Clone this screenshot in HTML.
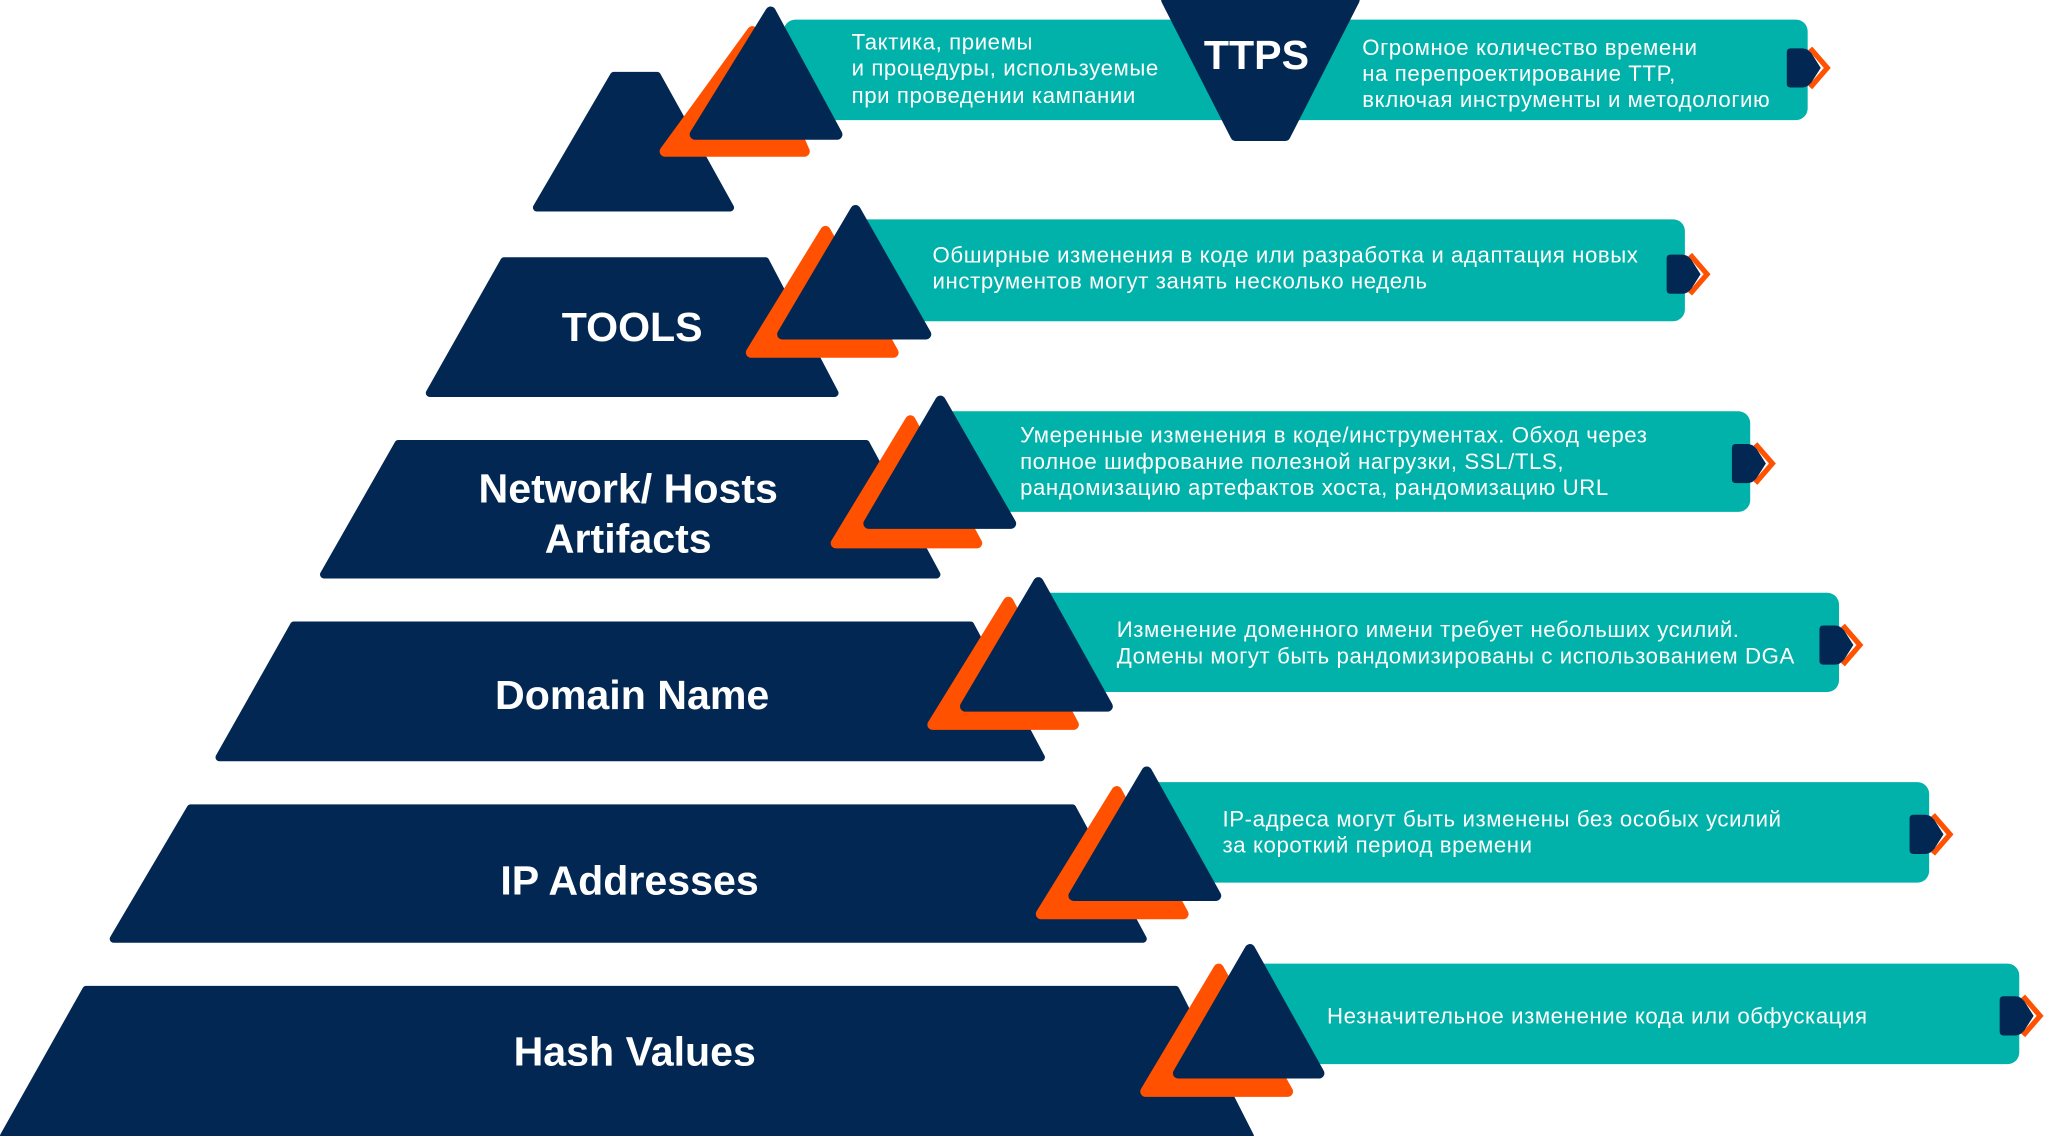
<!DOCTYPE html>
<html><head><meta charset="utf-8"><style>
html,body{margin:0;padding:0;background:#fff;}
svg{display:block}
text{font-family:"Liberation Sans",sans-serif;fill:#fff}
.t{font-size:17px;letter-spacing:0.45px}
.b{font-size:31.5px;font-weight:bold}
</style></head><body>
<svg width="2048" height="1136" viewBox="0 0 1568 870" preserveAspectRatio="none" xmlns="http://www.w3.org/2000/svg">
<g fill="#022752" stroke="#022752" stroke-width="6" stroke-linejoin="round">
<polygon points="470,58 503,58 559,159 411,159"/>
<polygon points="386,200 586,200 639,301 329,301"/>
<polygon points="305,340 663,340 717,440 248,440"/>
<polygon points="225,479 743,479 797,580 168,580"/>
<polygon points="146,619 821,619 875,719 87,719"/>
<polygon points="66,758 900,758 957,870 3,870"/>
</g>
<g font-family="Liberation Sans" text-anchor="middle">
<text class="b" x="484" y="261">TOOLS</text>
<text class="b" x="481" y="385">Network/ Hosts</text>
<text class="b" x="481" y="423">Artifacts</text>
<text class="b" x="484" y="543">Domain Name</text>
<text class="b" x="482" y="685">IP Addresses</text>
<text class="b" x="486" y="816">Hash Values</text>
</g>
<g fill="#00B2A9">
<rect x="600" y="15" width="784" height="77" rx="9"/>
<rect x="650" y="168" width="640" height="78" rx="9"/>
<rect x="715" y="315" width="625" height="77" rx="9"/>
<rect x="790" y="454" width="618" height="76" rx="9"/>
<rect x="873" y="599" width="604" height="77" rx="9"/>
<rect x="950" y="738" width="596" height="77" rx="9"/>
</g>
<g stroke-linejoin="round" stroke-width="8">
<polygon fill="#FF5100" stroke="#FF5100" points="576,24 616,116 509,116"/>
<polygon fill="#022752" stroke="#022752" points="590,9 641,103 532,103"/>
<polygon fill="#FF5100" stroke="#FF5100" points="632,177 684,270 575,270"/>
<polygon fill="#022752" stroke="#022752" points="655,161 709,256 599,256"/>
<polygon fill="#FF5100" stroke="#FF5100" points="697,322 748,416 640,416"/>
<polygon fill="#022752" stroke="#022752" points="720,307 774,401 665,401"/>
<polygon fill="#FF5100" stroke="#FF5100" points="772,461 822,555 714,555"/>
<polygon fill="#022752" stroke="#022752" points="795,446 848,541 739,541"/>
<polygon fill="#FF5100" stroke="#FF5100" points="855,606 906,700 797,700"/>
<polygon fill="#022752" stroke="#022752" points="878,591 931,686 822,686"/>
<polygon fill="#FF5100" stroke="#FF5100" points="933,742 986,836 877,836"/>
<polygon fill="#022752" stroke="#022752" points="957,727 1010,822 902,822"/>
<polygon fill="#022752" stroke="#022752" points="893,0 1037,0 984,104 946,104"/>
</g>
<text class="b" x="962" y="53" text-anchor="middle">TTPS</text>
<defs>
<g id="arr"><polyline points="18,0 31,15 18,30" fill="none" stroke="#FF5100" stroke-width="4"/><path d="M3,0 L12,0 Q16,0 19,4 L26,15 L19,26 Q16,30 12,30 L3,30 Q0,30 0,27 L0,3 Q0,0 3,0Z" fill="#022752"/></g>
</defs>
<use href="#arr" x="1368" y="37"/>
<use href="#arr" x="1276" y="195"/>
<use href="#arr" x="1326" y="340"/>
<use href="#arr" x="1393" y="479"/>
<use href="#arr" x="1462" y="624"/>
<use href="#arr" x="1531" y="763"/>
<g>
<text class="t" x="652" y="38">Тактика, приемы</text>
<text class="t" x="652" y="58">и процедуры, используемые</text>
<text class="t" x="652" y="79">при проведении кампании</text>
<text class="t" x="1043" y="42">Огромное количество времени</text>
<text class="t" x="1043" y="62">на перепроектирование TTP,</text>
<text class="t" x="1043" y="82">включая инструменты и методологию</text>
<text class="t" x="714" y="201">Обширные изменения в коде или разработка и адаптация новых</text>
<text class="t" x="714" y="221">инструментов могут занять несколько недель</text>
<text class="t" x="781" y="339">Умеренные изменения в коде/инструментах. Обход через</text>
<text class="t" x="781" y="359">полное шифрование полезной нагрузки, SSL/TLS,</text>
<text class="t" x="781" y="379">рандомизацию артефактов хоста, рандомизацию URL</text>
<text class="t" x="855" y="488">Изменение доменного имени требует небольших усилий.</text>
<text class="t" x="855" y="508">Домены могут быть рандомизированы с использованием DGA</text>
<text class="t" x="936" y="633">IP-адреса могут быть изменены без особых усилий</text>
<text class="t" x="936" y="653">за короткий период времени</text>
<text class="t" x="1016" y="784">Незначительное изменение кода или обфускация</text>
</g>
</svg>
</body></html>
